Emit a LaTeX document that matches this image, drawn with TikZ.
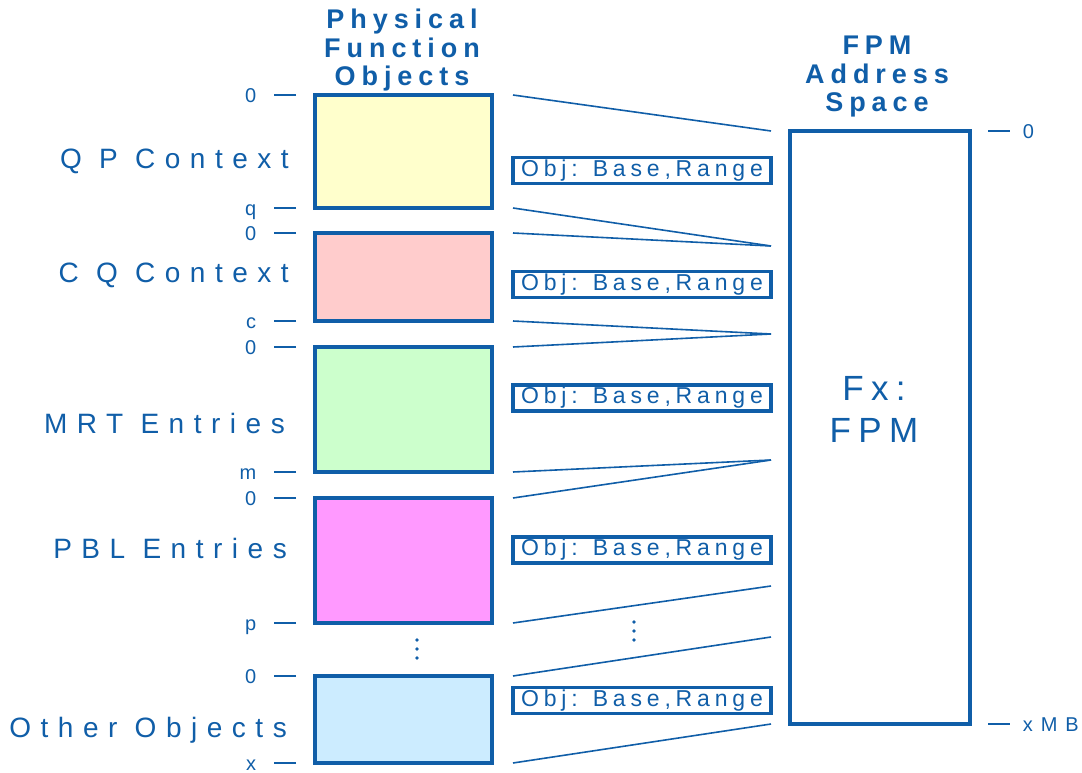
\documentclass[tikz,border=0pt]{standalone}
\usepackage{fontspec}
\setmainfont{Liberation Sans}
\definecolor{fblue}{RGB}{16,94,168}
\definecolor{qpfill}{HTML}{FFFFCC}
\definecolor{cqfill}{HTML}{FFCCCC}
\definecolor{mrtfill}{HTML}{CCFFCC}
\definecolor{pblfill}{HTML}{FF99FF}
\definecolor{othfill}{HTML}{CCECFF}
\tikzset{
  pbox/.style={draw=fblue, line width=3.5pt, inner sep=0pt, outer sep=0pt, anchor=north west, minimum width=177pt},
  lnk/.style={draw=fblue, line width=1.6pt},
  tickln/.style={draw=fblue, line width=1.6pt},
  ticklbl/.style={text=fblue, anchor=east, inner sep=0pt, xshift=-17pt, text height=14.3pt, text depth=0pt, font=\fontsize{20}{24}\selectfont},
  ticklblr/.style={text=fblue, anchor=west, inner sep=0pt, xshift=12pt, text height=14.3pt, text depth=0pt, font=\fontsize{20}{24}\selectfont\addfontfeature{LetterSpace=40}},
  grplbl/.style={text=fblue, anchor=base east, inner sep=0pt, font=\fontsize{28}{32}\selectfont\addfontfeature{LetterSpace=34}},
  objlbl/.style={draw=fblue, line width=3.5pt, text=fblue, inner sep=0pt, minimum width=258pt, minimum height=26pt, font=\fontsize{23}{26}\selectfont\addfontfeature{LetterSpace=21}},
  hdr/.style={text=fblue, align=center, inner sep=0pt, anchor=base, font=\fontsize{27}{28.5}\selectfont\bfseries\addfontfeature{LetterSpace=22}},
  dotc/.style={fill=fblue, draw=none}
}
\begin{document}
\begin{tikzpicture}[x=1pt,y=-1pt]
\useasboundingbox (0,0) rectangle (1082,773);

% headers
\node[hdr] (hl) at (402,86) {Physical\\Function\\Objects};
\node[hdr] (hr) at (877,112) {FPM\\Address\\Space};

% left boxes
\node[pbox, fill=qpfill, minimum height=113pt] (qp) at (315,95) {};
\node[pbox, fill=cqfill, minimum height=88pt] (cq) at (315,233) {};
\node[pbox, fill=mrtfill, minimum height=125pt] (mrt) at (315,347) {};
\node[pbox, fill=pblfill, minimum height=125pt] (pbl) at (315,498) {};
\node[pbox, fill=othfill, minimum height=87pt] (oth) at (315,676) {};

% right box
\node[draw=fblue, line width=3.5pt, fill=white, inner sep=0pt, outer sep=0pt, anchor=north west, minimum width=180pt, minimum height=593pt] (fpm) at (790,131) {};
\node[text=fblue, align=center, inner sep=0pt, anchor=base, font=\fontsize{35}{42}\selectfont\addfontfeature{LetterSpace=21}] (fx) at (874,442) {Fx:\\FPM};

% group labels
\node[grplbl] (lqp) at (289,168) {Q P Context};
\node[grplbl] (lcq) at (289,282) {C Q Context};
\node[grplbl] (lmrt) at (285,433) {MRT Entries};
\node[grplbl] (lpbl) at (287,558) {PBL Entries};
\node[grplbl] (loth) at (287,737) {Other Objects};

% ticks left
\draw[tickln] ([xshift=-19pt]qp.north west) -- ++(-22,0) node[ticklbl] (t1) {0};
\draw[tickln] ([xshift=-19pt]qp.south west) -- ++(-22,0) node[ticklbl] (t2) {q};
\draw[tickln] ([xshift=-19pt]cq.north west) -- ++(-22,0) node[ticklbl] (t3) {0};
\draw[tickln] ([xshift=-19pt]cq.south west) -- ++(-22,0) node[ticklbl] (t4) {c};
\draw[tickln] ([xshift=-19pt]mrt.north west) -- ++(-22,0) node[ticklbl] (t5) {0};
\draw[tickln] ([xshift=-19pt]mrt.south west) -- ++(-22,0) node[ticklbl] (t6) {m};
\draw[tickln] ([xshift=-19pt]pbl.north west) -- ++(-22,0) node[ticklbl] (t7) {0};
\draw[tickln] ([xshift=-19pt]pbl.south west) -- ++(-22,0) node[ticklbl] (t8) {p};
\draw[tickln] ([xshift=-19pt]oth.north west) -- ++(-22,0) node[ticklbl] (t9) {0};
\draw[tickln] ([xshift=-19pt]oth.south west) -- ++(-22,0) node[ticklbl] (t10) {x};

% ticks right
\draw[tickln] ([xshift=18pt]fpm.north east) -- ++(22,0) node[ticklblr] (r0) {0};
\draw[tickln] ([xshift=18pt]fpm.south east) -- ++(22,0) node[ticklblr] (rx) {xMB};

% object labels
\node[objlbl] (o1) at (642,170.5) {Obj: Base,Range};
\node[objlbl] (o2) at (642,284.5) {Obj: Base,Range};
\node[objlbl] (o3) at (642,398) {Obj: Base,Range};
\node[objlbl] (o4) at (642,550) {Obj: Base,Range};
\node[objlbl] (o5) at (642,700.5) {Obj: Base,Range};

% link endpoints
\coordinate (a1) at ([xshift=21pt]qp.north east);
\coordinate (a2) at ([xshift=21pt]qp.south east);
\coordinate (a3) at ([xshift=21pt]cq.north east);
\coordinate (a4) at ([xshift=21pt]cq.south east);
\coordinate (a5) at ([xshift=21pt]mrt.north east);
\coordinate (a6) at ([xshift=21pt]mrt.south east);
\coordinate (a7) at ([xshift=21pt]pbl.north east);
\coordinate (a8) at ([xshift=21pt]pbl.south east);
\coordinate (a9) at ([xshift=21pt]oth.north east);
\coordinate (a10) at ([xshift=21pt]oth.south east);
\coordinate (b1) at (771,131);
\coordinate (b2) at (771,246);
\coordinate (b3) at (771,334);
\coordinate (b4) at (771,460);
\coordinate (b5) at (771,586);
\coordinate (b6) at (771,637);
\coordinate (b7) at (771,724);

\draw[lnk] (a1) -- (b1);
\draw[lnk] (a2) -- (b2);
\draw[lnk] (a3) -- (b2);
\draw[lnk] (a4) -- (b3);
\draw[lnk] (a5) -- (b3);
\draw[lnk] (a6) -- (b4);
\draw[lnk] (a7) -- (b4);
\draw[lnk] (a8) -- (b5);
\draw[lnk] (a9) -- (b6);
\draw[lnk] (a10) -- (b7);

% dots
\foreach \yy in {640,649,658} \fill[dotc] (417,\yy) circle (1.8pt);
\foreach \yy in {622,631,640} \fill[dotc] (634,\yy) circle (1.8pt);
\end{tikzpicture}
\end{document}
